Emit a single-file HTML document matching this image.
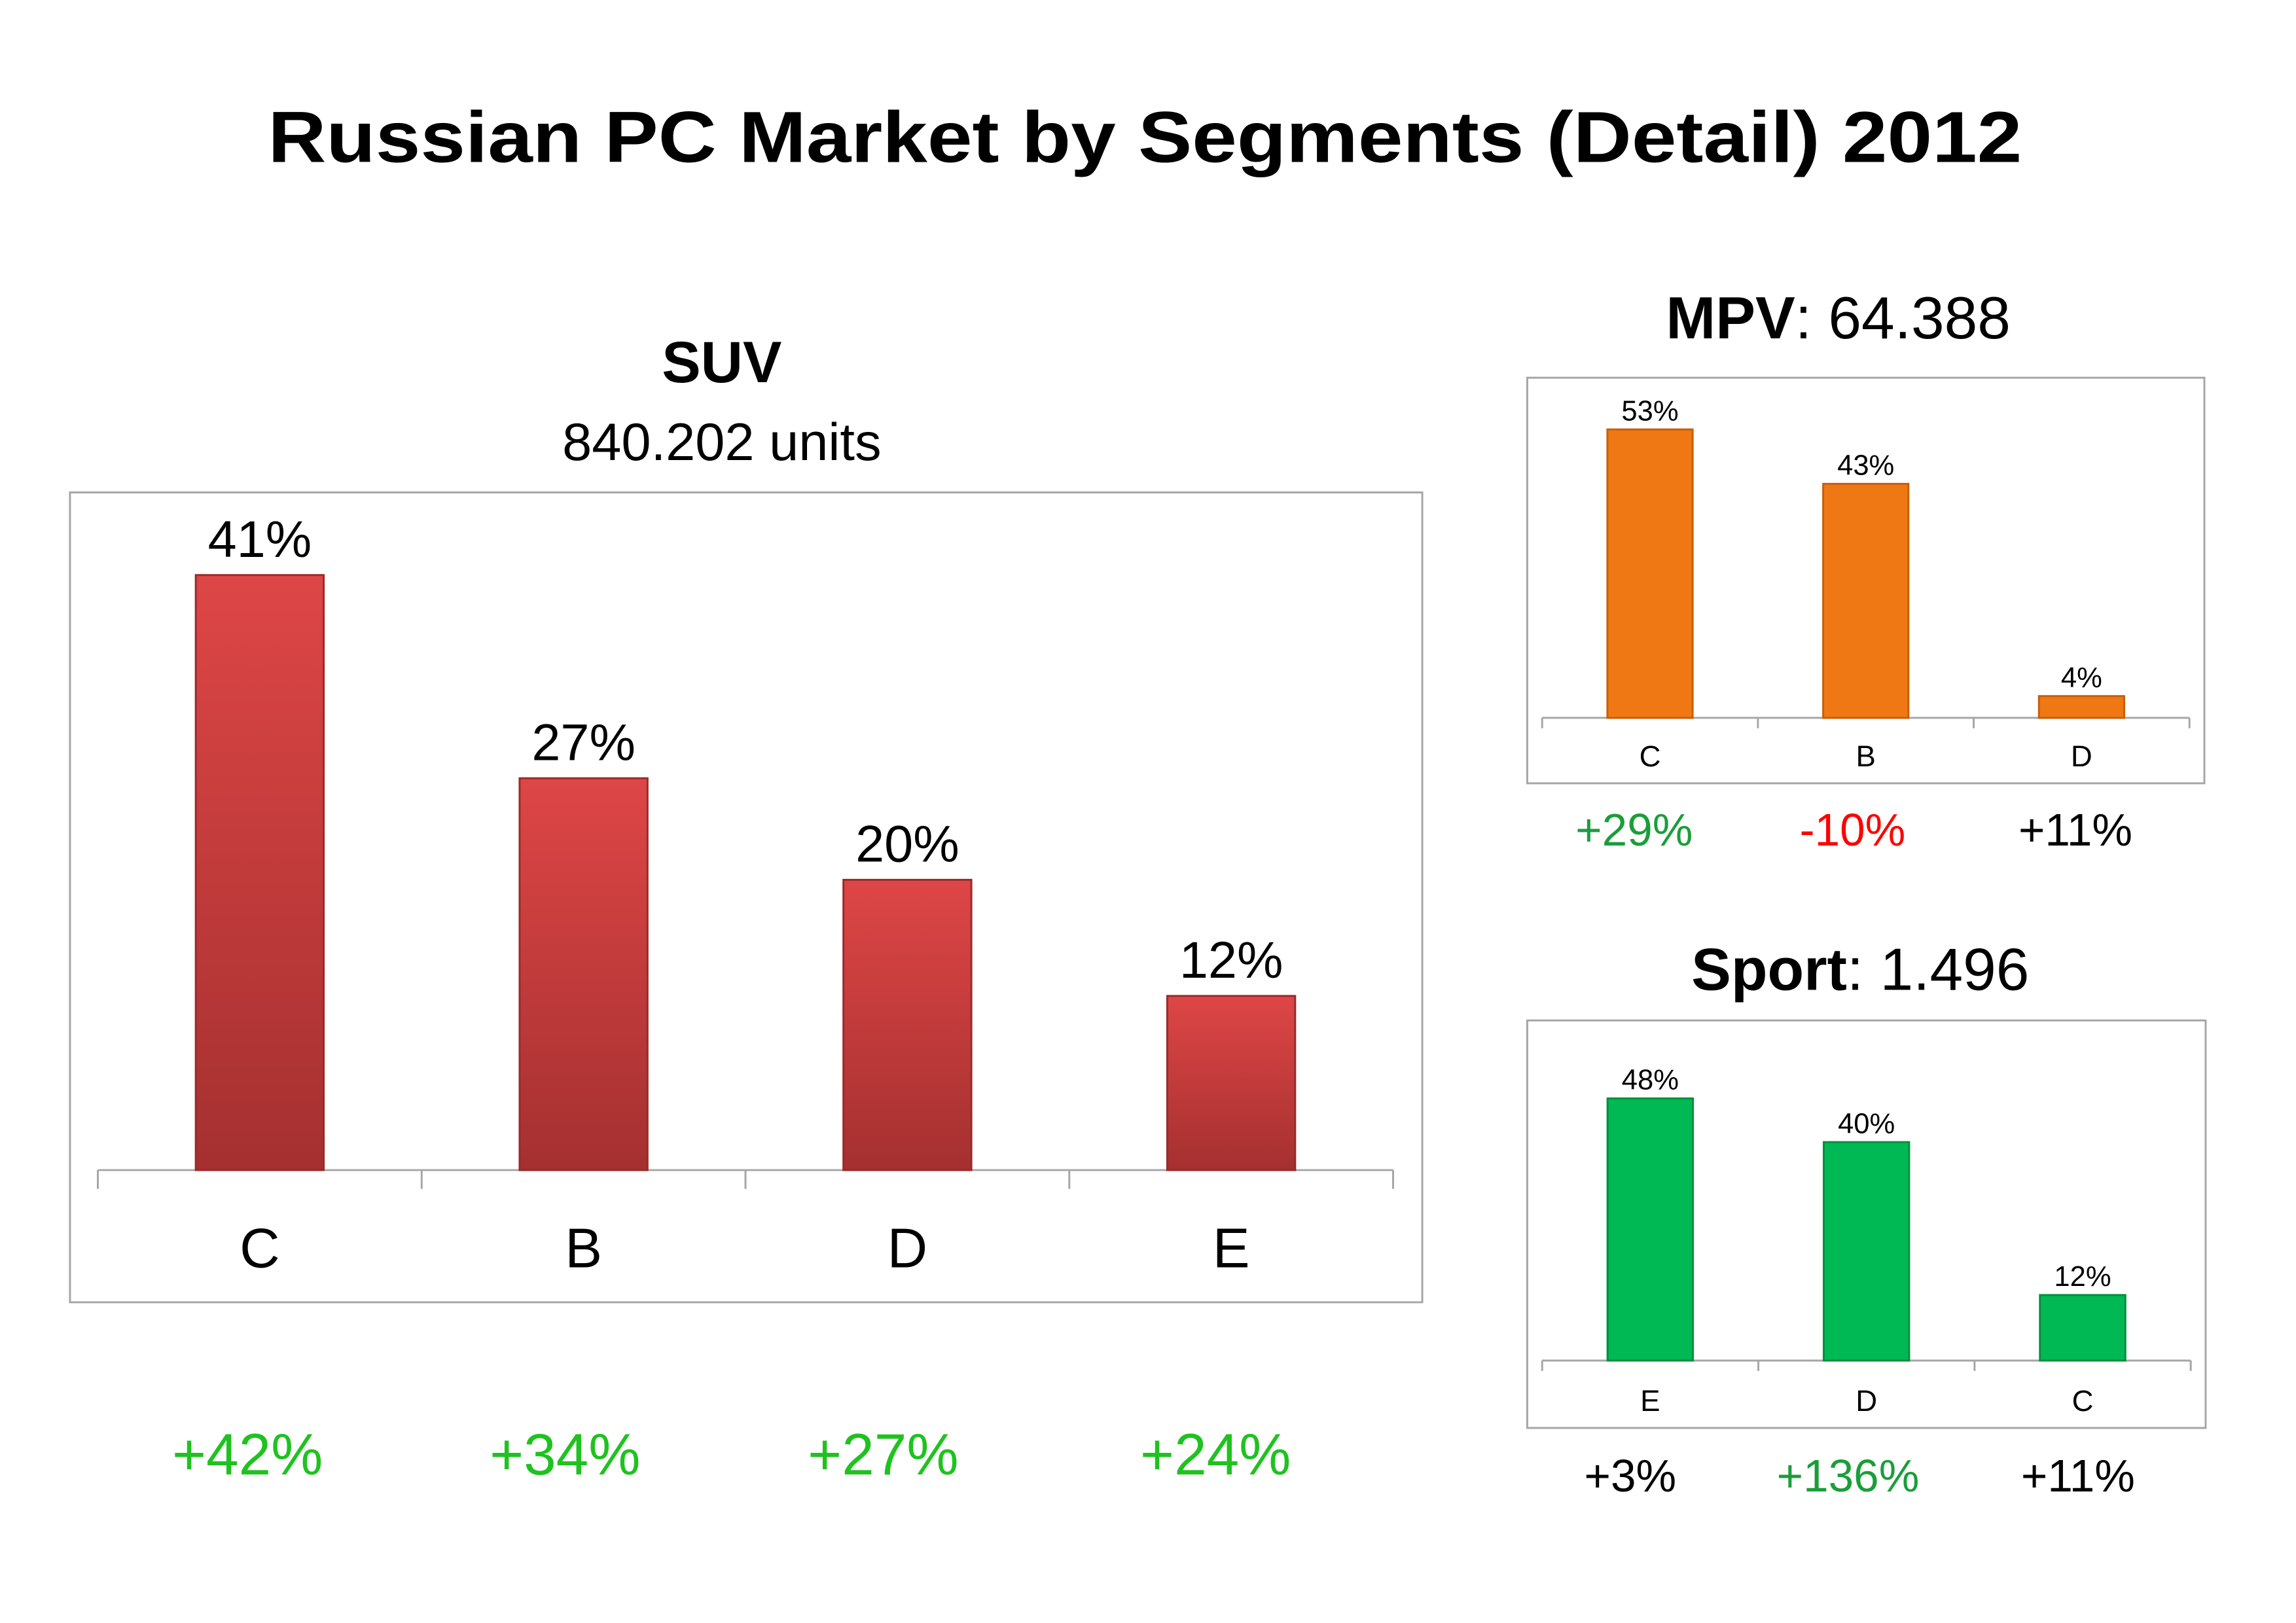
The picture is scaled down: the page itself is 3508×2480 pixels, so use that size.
<!DOCTYPE html>
<html><head><meta charset="utf-8"><style>
body{margin:0;background:#fff;}
svg{display:block;font-family:"Liberation Sans",sans-serif;}
</style></head><body>
<svg id="s" width="3508" height="2480" viewBox="0 0 3508 2480" xmlns="http://www.w3.org/2000/svg">
<defs>
<linearGradient id="red" x1="0" y1="0" x2="0" y2="1"><stop offset="0" stop-color="#de4646"/><stop offset="1" stop-color="#a53030"/></linearGradient>
</defs>
<g transform="scale(0.99)">
<text x="1767" y="250" text-anchor="middle" font-size="112" font-weight="bold" textLength="2707" lengthAdjust="spacingAndGlyphs">Russian PC Market by Segments (Detail) 2012</text>
<text x="1114" y="590" text-anchor="middle" font-size="90" font-weight="bold">SUV</text>
<text x="1114" y="710" text-anchor="middle" font-size="82">840.202 units</text>
<text x="2837" y="522" text-anchor="middle" font-size="92"><tspan font-weight="bold">MPV</tspan>: 64.388</text>
<text x="2871" y="1528" text-anchor="middle" font-size="92"><tspan font-weight="bold">Sport</tspan>: 1.496</text>
<g id="g"></g>
</g>
</svg>
<script>
const suvCats=["C","B","D","E"];
const suvVals=[41,27,20,12];
const suvGrowth=["+42%","+34%","+27%","+24%"];
const mpvCats=["C","B","D"];
const mpvVals=[53,43,4];
const mpvGrowth=["+29%","-10%","+11%"];
const sportCats=["E","D","C"];
const sportVals=[48,40,12];
const sportGrowth=["+3%","+136%","+11%"];
const NS="http://www.w3.org/2000/svg";
const g=document.getElementById('g');
function mk(t,a,txt){const e=document.createElementNS(NS,t);for(const k in a)e.setAttribute(k,a[k]);if(txt!==undefined)e.textContent=txt;g.appendChild(e);return e;}
function chart(o){
  let f=mk('rect',{x:o.fx,y:o.fy,width:o.fw,height:o.fh,fill:'#fff',stroke:'#a6a6a6','stroke-width':3});
  
  
  let ax=mk('line',{x1:o.x0,x2:o.x1,y1:o.base,y2:o.base,stroke:'#a6a6a6','stroke-width':3});
  
  
  const n=o.cats.length, step=(o.x1-o.x0)/n;
  for(let i=0;i<=n;i++){
    let t=mk('line',{x1:o.x0+i*step,x2:o.x0+i*step,y1:o.base,y2:o.base+o.tick,stroke:'#a6a6a6','stroke-width':3});
    
    
  }
  o.cats.forEach((c,i)=>{
    const cx=o.x0+(i+0.5)*step, h=o.vals[i]*o.k, bw=step*o.bwr;
    let b=mk('rect',{x:cx-bw/2,y:o.base-h,width:bw,height:h,fill:o.fill,stroke:o.stroke,'stroke-width':3});
    
    
    let l=mk('text',{x:cx,y:o.base-h-o.lgap,'text-anchor':'middle','font-size':o.lfs},o.vals[i]+'%');
    
    
    let cl=mk('text',{x:cx,y:o.cy,'text-anchor':'middle','font-size':o.cfs},c);
    
    
    let gl=mk('text',{x:o.gx[i],y:o.gy,'text-anchor':'middle','font-size':o.gfs,fill:o.gcol[i]},o.growth[i]);
    
    
  });
}
chart({name:'suv',cats:suvCats,vals:suvVals,growth:suvGrowth,fx:108,fy:760,fw:2087,fh:1250,x0:151,x1:2150,base:1806,tick:29,k:22.4,bwr:0.395,fill:'url(#red)',stroke:'#9a2a2a',lgap:28,lfs:80,cy:1956,cfs:86,gx:[382,872,1363,1876],gy:2276,gfs:90,gcol:['#1fc21f','#1fc21f','#1fc21f','#1fc21f']});
chart({name:'mpv',cats:mpvCats,vals:mpvVals,growth:mpvGrowth,fx:2357,fy:583,fw:1045,fh:626,x0:2380,x1:3379,base:1108,tick:16,k:8.4,bwr:0.395,fill:'#f07814',stroke:'#c85e08',lgap:14,lfs:44,cy:1183,cfs:46,gx:[2522,2859,3203],gy:1305,gfs:70,gcol:['#1a9e3a','#ff0000','#000']});
chart({name:'sport',cats:sportCats,vals:sportVals,growth:sportGrowth,fx:2357,fy:1575,fw:1047,fh:629,x0:2380,x1:3381,base:2100,tick:16,k:8.43,bwr:0.395,fill:'#00b854',stroke:'#00903c',lgap:14,lfs:44,cy:2178,cfs:46,gx:[2516,2852,3207],gy:2302,gfs:70,gcol:['#000','#1a9e3a','#000']});
</script>
</body></html>
